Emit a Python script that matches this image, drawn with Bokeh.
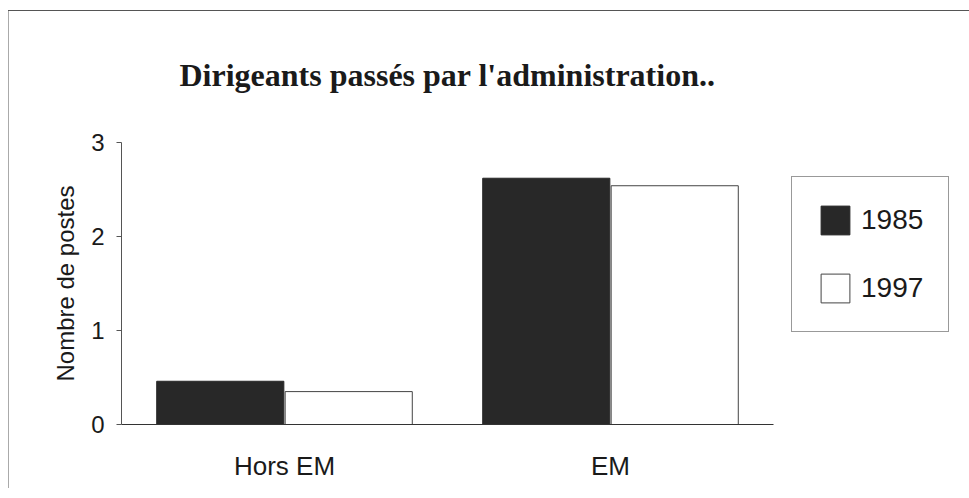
from bokeh.plotting import figure
from bokeh.models import Legend, LegendItem, FixedTicker, ColumnDataSource
from bokeh.transform import dodge
from bokeh.embed import file_html
from bokeh.resources import INLINE

categories = ["Hors EM", "EM"]
years = ["1985", "1997"]
values_1985 = [0.46, 2.62]
values_1997 = [0.35, 2.54]
y_ticks = [0, 1, 2, 3]

src = ColumnDataSource(dict(cat=categories, v1985=values_1985, v1997=values_1997))

p = figure(x_range=categories, y_range=(0, 3), frame_width=652, frame_height=282,
           output_backend="svg", toolbar_location=None,
           min_border_left=121, min_border_right=186, min_border_top=142, min_border_bottom=64)
p.styles = {
    "background": "linear-gradient(#555,#555) 8px 10px / calc(100% - 8px) 1px no-repeat, "
                  "linear-gradient(#aaa,#aaa) 8px 10px / 1px calc(100% - 10px) no-repeat, white"
}

p.title.text = "Dirigeants passés par l'administration.."
p.title.text_font = "Liberation Serif"
p.title.text_font_size = "32px"
p.title.text_font_style = "bold"
p.title.text_color = "#1a1a1a"
p.title.align = "center"
p.title.standoff = 100

r1 = p.vbar(x=dodge("cat", -0.197, range=p.x_range), top="v1985", width=0.39, source=src,
            fill_color="#282828", line_color="#282828", line_width=1)
r2 = p.vbar(x=dodge("cat", 0.197, range=p.x_range), top="v1997", width=0.39, source=src,
            fill_color="white", line_color="#444444", line_width=1)

p.xgrid.visible = False
p.ygrid.visible = False
p.outline_line_color = None
p.background_fill_alpha = 0
p.border_fill_alpha = 0

p.yaxis.ticker = FixedTicker(ticks=y_ticks)
p.yaxis.axis_label = "Nombre de postes"
p.yaxis.axis_label_text_font = "Liberation Sans"
p.yaxis.axis_label_text_font_size = "24px"
p.yaxis.axis_label_text_font_style = "normal"
p.yaxis.axis_label_text_color = "#1a1a1a"
p.yaxis.axis_label_standoff = 9
p.yaxis.major_label_text_font = "Liberation Sans"
p.yaxis.major_label_text_font_size = "24px"
p.yaxis.major_label_text_color = "#1a1a1a"
p.yaxis.major_label_standoff = 12
p.yaxis.major_tick_out = 5
p.yaxis.major_tick_in = 0
p.yaxis.minor_tick_line_color = None
p.yaxis.axis_line_color = "#555555"
p.yaxis.major_tick_line_color = "#555555"

p.xaxis.major_label_text_font = "Liberation Sans"
p.xaxis.major_label_text_font_size = "26px"
p.xaxis.major_label_text_color = "#1a1a1a"
p.xaxis.major_label_standoff = 20
p.xaxis.major_tick_line_color = None
p.xaxis.axis_line_color = "#333333"

legend = Legend(items=[LegendItem(label=years[0], renderers=[r1]),
                       LegendItem(label=years[1], renderers=[r2])],
                location=(18, 92))
legend.margin = 0
legend.label_text_font = "Liberation Sans"
legend.label_text_font_size = "28px"
legend.label_text_color = "#1a1a1a"
legend.glyph_width = 36
legend.glyph_height = 36
legend.label_standoff = 8
legend.label_width = 60
legend.spacing = 32
legend.padding = 25
legend.border_line_color = "#333333"
legend.border_line_width = 1
legend.background_fill_color = "white"
legend.background_fill_alpha = 1
p.add_layout(legend, "right")

open("out.html", "w").write(file_html(p, INLINE))
